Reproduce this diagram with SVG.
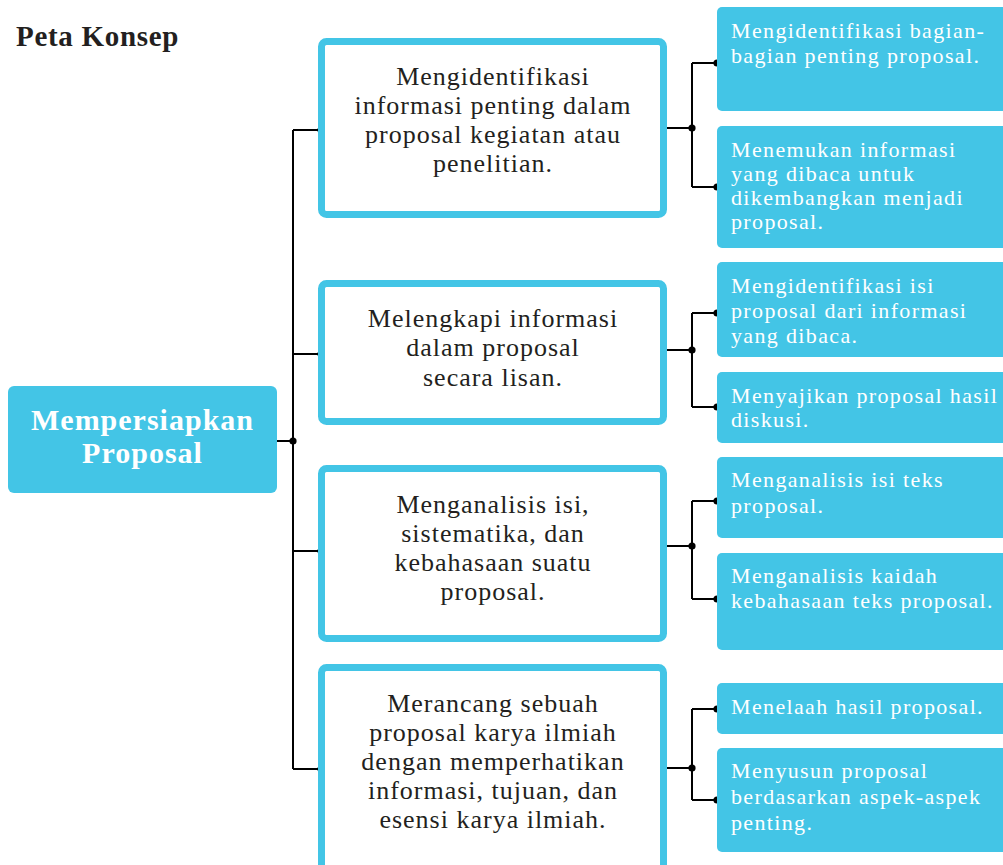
<svg xmlns="http://www.w3.org/2000/svg" width="1003" height="865" viewBox="0 0 1003 865">
<style>
.mb{fill:#fff;stroke:#43C5E6;stroke-width:7}
.rb{fill:#43C5E6}
.mt{font-family:"Liberation Serif",serif;font-size:26px;letter-spacing:1px;fill:#231F20;text-anchor:middle}
.rt{font-family:"Liberation Serif",serif;font-size:22px;letter-spacing:1.35px;fill:#fff}
.ln{fill:none;stroke:#000;stroke-width:2}
.dot{fill:#000}
</style>
<rect width="1003" height="865" fill="#fff"/>
<text x="16" y="46" font-family="Liberation Serif,serif" font-size="29" font-weight="bold" letter-spacing="0.7" fill="#231F20">Peta Konsep</text>
<g id="connectors">
<path class="ln" d="M277 441H293M293 130V769M293 130H321M293 354H321M293 551H321M293 769H321"/>
<path class="ln" d="M664 128H692M692 63V187M692 63H717M692 187H717"/>
<path class="ln" d="M664 350H692M692 313V407M692 313H717M692 407H717"/>
<path class="ln" d="M664 546H692M692 501V599M692 501H717M692 599H717"/>
<path class="ln" d="M664 768H692M692 709V800M692 709H717M692 800H717"/>
<g class="dot">
<circle cx="293" cy="441" r="3.6"/>
<circle cx="321" cy="130" r="3.6"/><circle cx="321" cy="354" r="3.6"/><circle cx="321" cy="551" r="3.6"/><circle cx="321" cy="769" r="3.6"/>
<circle cx="692" cy="128" r="3.6"/><circle cx="717" cy="63" r="3.6"/><circle cx="717" cy="187" r="3.6"/>
<circle cx="692" cy="350" r="3.6"/><circle cx="717" cy="313" r="3.6"/><circle cx="717" cy="407" r="3.6"/>
<circle cx="692" cy="546" r="3.6"/><circle cx="717" cy="501" r="3.6"/><circle cx="717" cy="599" r="3.6"/>
<circle cx="692" cy="768" r="3.6"/><circle cx="717" cy="709" r="3.6"/><circle cx="717" cy="800" r="3.6"/>
</g>
</g>
<g id="main">
<rect x="8" y="386" width="269" height="107" rx="6" fill="#43C5E6"/>
<text x="142.5" y="430" font-family="Liberation Serif,serif" font-size="30" font-weight="bold" letter-spacing="1" fill="#fff" text-anchor="middle">Mempersiapkan</text>
<text x="142.5" y="463" font-family="Liberation Serif,serif" font-size="30" font-weight="bold" letter-spacing="1" fill="#fff" text-anchor="middle">Proposal</text>
</g>
<g id="mb1">
<rect class="mb" x="321.5" y="41.5" width="342" height="173" rx="5"/>
<text class="mt"><tspan x="493" y="85">Mengidentifikasi</tspan><tspan x="493" y="114">informasi penting dalam</tspan><tspan x="493" y="143">proposal kegiatan atau</tspan><tspan x="493" y="172">penelitian.</tspan></text>
</g>
<g id="mb2">
<rect class="mb" x="321.5" y="283.5" width="342" height="138" rx="5"/>
<text class="mt"><tspan x="493" y="327">Melengkapi informasi</tspan><tspan x="493" y="356">dalam proposal</tspan><tspan x="493" y="386">secara lisan.</tspan></text>
</g>
<g id="mb3">
<rect class="mb" x="321.5" y="468.5" width="342" height="170" rx="5"/>
<text class="mt"><tspan x="493" y="513">Menganalisis isi,</tspan><tspan x="493" y="542">sistematika, dan</tspan><tspan x="493" y="571">kebahasaan suatu</tspan><tspan x="493" y="600">proposal.</tspan></text>
</g>
<g id="mb4">
<rect class="mb" x="321.5" y="667.5" width="342" height="220" rx="5"/>
<text class="mt"><tspan x="493" y="712">Merancang sebuah</tspan><tspan x="493" y="741">proposal karya ilmiah</tspan><tspan x="493" y="770">dengan memperhatikan</tspan><tspan x="493" y="799">informasi, tujuan, dan</tspan><tspan x="493" y="828">esensi karya ilmiah.</tspan></text>
</g>
<g id="rb1">
<rect class="rb" x="717" y="7" width="300" height="104" rx="5"/>
<text class="rt"><tspan x="731" y="38">Mengidentifikasi bagian-</tspan><tspan x="731" y="63">bagian penting proposal.</tspan></text>
</g>
<g id="rb2">
<rect class="rb" x="717" y="126" width="300" height="122" rx="5"/>
<text class="rt"><tspan x="731" y="157">Menemukan informasi</tspan><tspan x="731" y="181">yang dibaca untuk</tspan><tspan x="731" y="205">dikembangkan menjadi</tspan><tspan x="731" y="229">proposal.</tspan></text>
</g>
<g id="rb3">
<rect class="rb" x="717" y="262" width="300" height="95" rx="5"/>
<text class="rt"><tspan x="731" y="293">Mengidentifikasi isi</tspan><tspan x="731" y="318">proposal dari informasi</tspan><tspan x="731" y="343">yang dibaca.</tspan></text>
</g>
<g id="rb4">
<rect class="rb" x="717" y="372" width="300" height="71" rx="5"/>
<text class="rt"><tspan x="731" y="403">Menyajikan proposal hasil</tspan><tspan x="731" y="427">diskusi.</tspan></text>
</g>
<g id="rb5">
<rect class="rb" x="717" y="457" width="300" height="81" rx="5"/>
<text class="rt"><tspan x="731" y="487">Menganalisis isi teks</tspan><tspan x="731" y="513">proposal.</tspan></text>
</g>
<g id="rb6">
<rect class="rb" x="717" y="553" width="300" height="97" rx="5"/>
<text class="rt"><tspan x="731" y="583">Menganalisis kaidah</tspan><tspan x="731" y="608">kebahasaan teks proposal.</tspan></text>
</g>
<g id="rb7">
<rect class="rb" x="717" y="683" width="300" height="51" rx="5"/>
<text class="rt"><tspan x="731" y="714">Menelaah hasil proposal.</tspan></text>
</g>
<g id="rb8">
<rect class="rb" x="717" y="748" width="300" height="104" rx="5"/>
<text class="rt"><tspan x="731" y="778">Menyusun proposal</tspan><tspan x="731" y="804">berdasarkan aspek-aspek</tspan><tspan x="731" y="830">penting.</tspan></text>
</g>
</svg>
